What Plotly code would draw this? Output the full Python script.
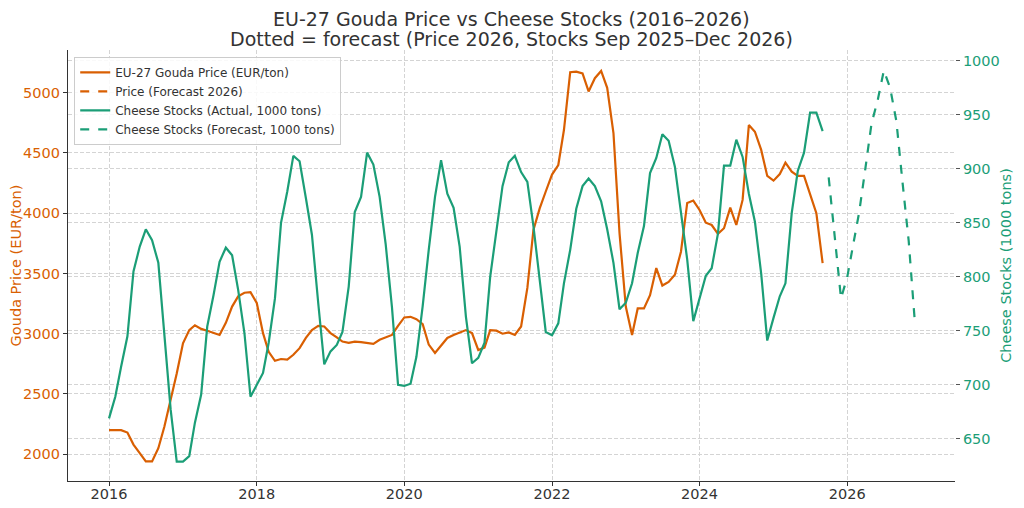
import pandas as pd
import plotly.graph_objects as go

# monthly data, Jan 2016 - Sep 2025 (actual), Oct 2025 - Dec 2026 (stock forecast)
ACTUAL_START = '2016-01-01'
FORECAST_START = '2025-10-01'
PRICE_FC_START = '2026-01-01'

PRICE = [
    2200, 2200, 2200, 2180, 2080, 2010, 1940, 1940, 2050, 2230, 2450, 2670,  # 2016
    2920, 3030, 3070, 3040, 3025, 3005, 2990, 3090, 3225, 3310, 3340, 3345,  # 2017
    3255, 3005, 2850, 2775, 2790, 2785, 2825, 2880, 2965, 3030, 3065, 3060,  # 2018
    3005, 2970, 2935, 2925, 2935, 2930, 2920, 2915, 2950, 2970, 2990, 3065,  # 2019
    3135, 3140, 3120, 3080, 2910, 2840, 2900, 2965, 2990, 3010, 3030, 3005,  # 2020
    2865, 2885, 3030, 3025, 3000, 3010, 2990, 3060, 3380, 3860, 4040, 4180,  # 2021
    4320, 4400, 4690, 5170, 5175, 5160, 5010, 5120, 5180, 5040, 4665, 3835,  # 2022
    3225, 2990, 3210, 3210, 3320, 3545, 3400, 3430, 3490, 3680, 4085, 4105,  # 2023
    4027, 3921, 3902, 3828, 3875, 4046, 3902, 4110, 4732, 4676, 4525, 4309,  # 2024
    4270, 4325, 4419, 4345, 4309, 4309, 4151, 4000, 3585,                    # 2025
]

# 2026 price forecast: in the legend, but no values are drawn
PRICE_FORECAST = [None, None, None, None, None, None, None, None, None, None, None, None]

STOCKS = [
    669, 689, 717, 745, 805, 828, 844, 834, 813, 742, 677, 629,  # 2016
    629, 634, 665, 691, 754, 783, 814, 827, 820, 788, 748, 689,  # 2017
    700, 711, 739, 780, 850, 879, 912, 907, 873, 839, 776, 719,  # 2018
    731, 737, 749, 791, 860, 874, 915, 904, 874, 830, 772, 700,  # 2019
    699, 701, 726, 773, 825, 874, 908, 877, 864, 828, 763, 720,  # 2020
    725, 739, 800, 844, 884, 906, 912, 897, 888, 847, 800, 749,  # 2021
    746, 757, 794, 825, 863, 884, 891, 884, 870, 844, 813, 770,  # 2022
    776, 794, 822, 847, 896, 910, 932, 926, 902, 862, 816, 759,  # 2023
    779, 801, 808, 840, 903, 903, 927, 911, 877, 851, 803, 741,  # 2024
    762, 782, 794, 859, 898, 915, 952, 952, 935,                 # 2025
]

STOCKS_FORECAST = [892, 836, 780, 800, 833, 860, 901, 942, 964, 991, 975, 944, 888, 833, 759]

TITLE_1 = 'EU-27 Gouda Price vs Cheese Stocks (2016–2026)'
TITLE_2 = 'Dotted = forecast (Price 2026, Stocks Sep 2025–Dec 2026)'

ORANGE = '#d95f02'
GREEN = '#1b9e77'
TEXT = '#333333'
FONT = 'DejaVu Sans'

dates = pd.date_range(ACTUAL_START, periods=len(PRICE), freq='MS')
fc_dates = pd.date_range(FORECAST_START, periods=len(STOCKS_FORECAST), freq='MS')
price_fc_dates = pd.date_range(PRICE_FC_START, periods=len(PRICE_FORECAST), freq='MS')

fig = go.Figure()
fig.add_trace(go.Scatter(x=dates, y=PRICE, mode='lines', name='EU-27 Gouda Price (EUR/ton)',
                         line=dict(color=ORANGE, width=2.2)))
fig.add_trace(go.Scatter(x=price_fc_dates, y=PRICE_FORECAST, mode='lines',
                         name='Price (Forecast 2026)', line=dict(color=ORANGE, width=2.2, dash='dash')))
fig.add_trace(go.Scatter(x=dates, y=STOCKS, mode='lines', name='Cheese Stocks (Actual, 1000 tons)',
                         line=dict(color=GREEN, width=2.2), yaxis='y2'))
fig.add_trace(go.Scatter(x=fc_dates, y=STOCKS_FORECAST, mode='lines',
                         name='Cheese Stocks (Forecast, 1000 tons)',
                         line=dict(color=GREEN, width=2.2, dash='dash'), yaxis='y2'))

grid = dict(showgrid=True, gridcolor='#d4d4d4', gridwidth=0.8, griddash='4px,2px')

# the page body adds an 8px offset, so the figure is 8px smaller than the window
fig.update_layout(
    width=1016, height=500,
    margin=dict(l=60, r=69, t=42, b=27),
    paper_bgcolor='white', plot_bgcolor='white',
    font=dict(family=FONT, color=TEXT, size=14.5),
    xaxis=dict(type='date', range=['2015-06-12', '2027-06-18'],
               tickformat='%Y', dtick='M24', tick0='2016-01-01',
               ticks='outside', ticklen=4, tickcolor=TEXT, ticklabelstandoff=-5,
               showline=True, linecolor=TEXT, linewidth=1.3,
               zeroline=False, automargin=False, **grid),
    yaxis=dict(range=[1778, 5354], tickvals=[2000, 2500, 3000, 3500, 4000, 4500, 5000],
               title=dict(text='Gouda Price (EUR/ton)', font=dict(color=ORANGE, size=14.5), standoff=3),
               tickfont=dict(color=ORANGE), ticks='outside', ticklen=4, tickcolor=TEXT,
               showline=True, linecolor=TEXT, linewidth=1.3,
               zeroline=False, automargin=False, **grid),
    yaxis2=dict(range=[611, 1010], tickvals=[650, 700, 750, 800, 850, 900, 950, 1000],
                overlaying='y', side='right',
                title=dict(text='Cheese Stocks (1000 tons)', font=dict(color=GREEN, size=14.5), standoff=2),
                tickfont=dict(color=GREEN), ticks='outside', ticklen=4, tickcolor='#555555',
                showline=False, zeroline=False, automargin=False, **grid),
    legend=dict(x=0.007, y=0.984, xanchor='left', yanchor='top',
                bgcolor='rgba(255,255,255,0.85)', bordercolor='#cccccc', borderwidth=1,
                font=dict(size=12, color=TEXT), tracegroupgap=0, itemwidth=30),
    showlegend=True,
    annotations=[
        dict(text=TITLE_1, xref='paper', yref='paper', x=0.5, y=1.072, xanchor='center',
             yanchor='middle', showarrow=False, font=dict(size=19, color=TEXT)),
        dict(text=TITLE_2, xref='paper', yref='paper', x=0.5, y=1.0255, xanchor='center',
             yanchor='middle', showarrow=False, font=dict(size=19, color=TEXT)),
    ],
)

fig.write_html('out.html')
